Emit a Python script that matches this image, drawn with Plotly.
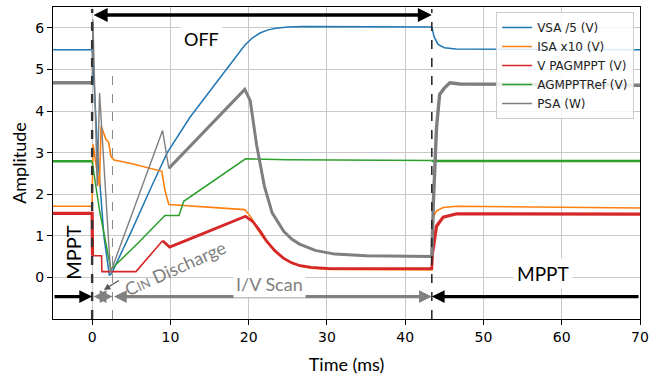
import plotly.graph_objects as go

# ---------------- data ----------------
t_vsa = [-5, 0, 0.3, 0.7, 1.5, 2.2, 2.5, 5, 7.5, 9.6, 12.5, 15, 17.5, 19.5, 20.5, 21.5, 22.5, 23.5, 25, 27,
         43.4, 43.7, 44.2, 45, 46.5, 70]
v_vsa = [5.47, 5.47, 4.5, 3.0, 1.0, 0.05, 0.1, 1.1, 2.15, 3.0, 3.85, 4.47, 5.1, 5.58, 5.76, 5.88, 5.95, 5.99, 6.02, 6.03,
         6.02, 5.78, 5.6, 5.52, 5.49, 5.47]

t_isa = [-5, 0, 0.1, 0.93, 1.15, 1.5, 1.8, 2.1, 2.4, 2.8, 5, 8.9, 9.3, 9.8, 15, 19.5, 20.3, 21.0, 21.7, 22.3, 23.3,
         24.4, 25.5, 26.6, 28, 30.4, 43.4, 43.6, 44.0, 44.85, 46.6, 70]
v_isa = [1.71, 1.71, 3.2, 2.19, 3.63, 3.45, 3.3, 3.25, 2.91, 2.82, 2.74, 2.55, 2.1, 1.75, 1.69, 1.63, 1.45, 1.2, 1.0, 0.86, 0.63,
         0.46, 0.34, 0.27, 0.22, 0.19, 0.18, 1.45, 1.6, 1.68, 1.71, 1.67]

t_pag = [-5, 0, 0.05, 1.2, 1.25, 5.6, 9.0, 9.9, 14, 19.6, 20.5, 21.5, 22.3, 23.3, 24.4, 25.5, 26.6, 28, 30.4,
         43.4, 43.5, 44.0, 44.85, 46.6, 70]
v_pag = [1.54, 1.54, 0.52, 0.52, 0.14, 0.14, 0.88, 0.73, 1.04, 1.47, 1.35, 1.1, 0.87, 0.65, 0.47, 0.35, 0.28, 0.24, 0.21,
         0.21, 0.6, 1.23, 1.45, 1.53, 1.52]

t_ref = [-5, 0, 0.93, 2.4, 6.0, 9.3, 11.1, 11.7, 15, 19.6, 25, 43.4, 43.5, 70]
v_ref = [2.79, 2.79, 1.63, 0.19, 0.85, 1.49, 1.49, 1.83, 2.26, 2.85, 2.83, 2.81, 2.8, 2.8]

t_psa = [-5, 0, 0.1, 0.65, 0.95, 2.35, 5.9, 9.0, 9.8, 19.5, 20.2, 21, 22, 23, 24.5, 25.5, 26.5, 28.5, 31, 35,
         43.4, 43.6, 44.0, 44.4, 45.0, 45.7, 47, 70]
v_psa = [4.68, 4.68, 6.2, 2.2, 4.43, 0.12, 1.95, 3.53, 2.62, 4.52, 4.25, 3.2, 2.2, 1.55, 1.1, 0.92, 0.8, 0.65, 0.56, 0.52,
         0.5, 1.8, 3.6, 4.4, 4.55, 4.68, 4.65, 4.62]

series_names = ["VSA /5 (V)", "ISA x10 (V)", "V PAGMPPT (V)", "AGMPPTRef (V)", "PSA (W)"]
series_colors = ["#1f77b4", "#ff7f0e", "#d62728", "#2ca02c", "#7f7f7f"]

# event times (ms)
t_off_start = 0
t_off_end = 43.4
t_cin_end = 2.6

x_ticks = [0, 10, 20, 30, 40, 50, 60, 70]
y_ticks = [0, 1, 2, 3, 4, 5, 6]

# ---------------- figure ----------------
fig = go.Figure()


def add_series(t, v, name, color, segs, legend_seg=0):
    for k, (a, b, w) in enumerate(segs):
        idx = [i for i, tt in enumerate(t) if a <= tt <= b]
        fig.add_trace(go.Scatter(
            x=[t[i] for i in idx], y=[v[i] for i in idx], mode="lines",
            line=dict(color=color, width=w), name=name, legendgroup=name,
            showlegend=(k == legend_seg), hoverinfo="skip"))


add_series(t_vsa, v_vsa, series_names[0], series_colors[0], [(-5, 70, 1.5)])
add_series(t_isa, v_isa, series_names[1], series_colors[1], [(-5, 70, 1.6)])
add_series(t_pag, v_pag, series_names[2], series_colors[2],
           [(0.05, 9.0, 1.6), (-5, 0.05, 3.2), (9.0, 43.5, 2.8), (43.5, 70, 3.2)])
add_series(t_ref, v_ref, series_names[3], series_colors[3], [(0, 43.4, 1.5), (-5, 0, 2.5), (43.4, 70, 2.5)])
add_series(t_psa, v_psa, series_names[4], series_colors[4],
           [(0, 9.8, 1.4), (-5, 0, 3.4), (9.8, 43.4, 3.0), (43.4, 70, 3.4)])

# vertical dashed lines
fig.add_shape(type="line", x0=t_off_start, x1=t_off_start, y0=-1, y1=6.45,
              line=dict(color="#333333", width=2.4, dash="dash"))
fig.add_shape(type="line", x0=t_off_end, x1=t_off_end, y0=-1, y1=6.45,
              line=dict(color="#222222", width=1.5, dash="dash"))
fig.add_shape(type="line", x0=t_cin_end, x1=t_cin_end, y0=-1, y1=5.03,
              line=dict(color="#888888", width=1, dash="dash"))


def arrow(x_head, x_tail, y, color, width, both=False):
    fig.add_annotation(x=x_head, y=y, ax=x_tail, ay=y, xref="x", yref="y", axref="x", ayref="y",
                       text="", showarrow=True, arrowhead=2, arrowsize=0.8, arrowwidth=width,
                       arrowcolor=color, arrowside="end+start" if both else "end",
                       standoff=0, startstandoff=0)


arrow(t_off_end, t_off_start, 6.31, "black", 3.5, both=True)
arrow(t_off_start, -5, -0.46, "black", 3.2)
arrow(t_off_end, 70, -0.46, "black", 3.2)
arrow(t_cin_end, t_off_start, -0.46, "#808080", 3.2, both=True)
arrow(t_off_end, t_cin_end, -0.46, "#808080", 3.2, both=True)

# small arrow pointing to CIN discharge interval
fig.add_annotation(x=1.5, y=-0.3, ax=3.6, ay=-0.05, xref="x", yref="y", axref="x", ayref="y",
                   text="", showarrow=True, arrowhead=2, arrowsize=1.0, arrowwidth=1.3,
                   arrowcolor="#555555", standoff=0)

txt_font = "Lato, Open Sans, sans-serif"
fig.add_annotation(x=14, y=5.73, text="OFF", showarrow=False, bgcolor="white", borderpad=3,
                   font=dict(family=txt_font, size=18, color="black"))
fig.add_annotation(x=57.6, y=0.1, text="MPPT", showarrow=False, bgcolor="white", borderpad=3,
                   font=dict(family=txt_font, size=19, color="black"))
fig.add_annotation(x=-2.4, y=0.6, text="MPPT", showarrow=False, textangle=-90,
                   font=dict(family=txt_font, size=20, color="black"))
fig.add_annotation(x=22.7, y=-0.17, text="I/V Scan", showarrow=False, bgcolor="white", borderpad=2,
                   font=dict(family=txt_font, size=18, color="#7f7f7f"))
fig.add_annotation(x=10.6, y=0.22, text="C<span style='font-size:13px'>IN</span> Discharge",
                   showarrow=False, textangle=-24,
                   font=dict(family=txt_font, size=18, color="#7f7f7f"))

fig.update_layout(
    width=663, height=379,
    margin=dict(l=53, r=23, t=7, b=60),
    paper_bgcolor="white", plot_bgcolor="white",
    showlegend=True,
    legend=dict(x=0.99, y=0.984, xanchor="right", yanchor="top", tracegroupgap=0, itemwidth=30,
                bgcolor="rgba(255,255,255,0.85)", bordercolor="#cccccc", borderwidth=1,
                font=dict(family="DejaVu Sans", size=12, color="#222222")),
    font=dict(family="DejaVu Sans", size=14, color="black"),
)
fig.update_xaxes(range=[-5, 70], tickvals=x_ticks, ticks="outside", ticklen=5, tickwidth=1.2,
                 tickcolor="black", showline=True, linecolor="black", linewidth=1.3, mirror=True,
                 showgrid=True, gridcolor="#c8c8c8", gridwidth=1, zeroline=False,
                 tickfont=dict(family="DejaVu Sans", size=14),
                 title=dict(text="Time (ms)", font=dict(family=txt_font, size=18), standoff=14))
fig.update_yaxes(range=[-1, 6.5], tickvals=y_ticks, ticks="outside", ticklen=5, tickwidth=1.2,
                 tickcolor="black", showline=True, linecolor="black", linewidth=1.3, mirror=True,
                 showgrid=True, gridcolor="#c8c8c8", gridwidth=1, zeroline=False,
                 tickfont=dict(family="DejaVu Sans", size=14),
                 title=dict(text="Amplitude", font=dict(family=txt_font, size=18), standoff=3))

fig.write_html("out.html")
